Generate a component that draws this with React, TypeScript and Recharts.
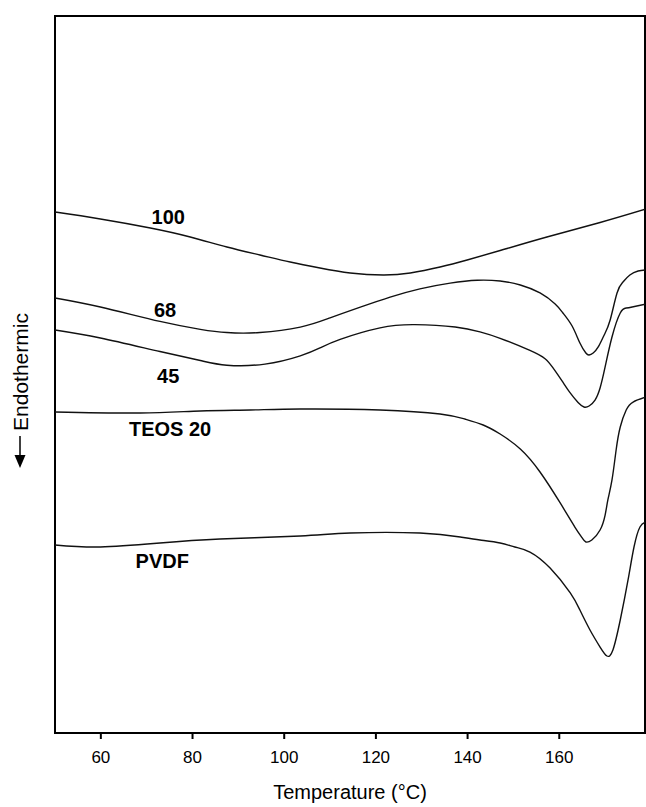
import React from 'react';
import { LineChart, Line, XAxis, YAxis, ReferenceDot, ReferenceArea } from 'recharts';

// Temperature (°C) and heat flow (arbitrary units, endotherm down) per sample
const temp100 = [50, 59.9, 70.8, 79.5, 87.5, 94.7, 101.3, 107.8, 114.4, 121.6, 127.5, 134.0, 139.9, 147.1, 157.3, 168.9, 178.9];
const flow100 = [72.66, 71.69, 70.43, 69.18, 67.78, 66.67, 65.69, 64.85, 64.16, 63.88, 64.16, 64.99, 65.97, 67.29, 69.18, 71.2, 73.08];

const temp68 = [50, 59.9, 72.9, 81.7, 87.5, 94.7, 103.5, 110.0, 116.6, 123.1, 129.6, 136.2, 142.1, 147.1, 151.5, 155.8, 159.1, 160.8, 162.8, 164.5, 165.8, 166.5, 167.4, 168.5, 169.8, 171.1, 172.6, 173.9, 175.4, 177.2, 178.9];
const flow68 = [60.67, 59.41, 57.4, 56.3, 55.85, 55.85, 56.6, 57.9, 59.4, 60.8, 61.95, 62.75, 63.15, 63.04, 62.48, 61.37, 59.83, 58.58, 56.76, 54.39, 53.0, 52.72, 53.0, 53.84, 55.51, 57.6, 61.37, 62.9, 63.88, 64.44, 64.58];

const temp45 = [50, 59.9, 72.9, 81.7, 87.5, 95.8, 103.5, 107.8, 112.2, 120.9, 128.5, 137.3, 142.7, 147.1, 153.6, 156.9, 158.6, 160.6, 162.3, 164.1, 165.4, 166.5, 167.8, 168.9, 170.0, 171.5, 173.3, 174.6, 175.9, 178.9];
const flow45 = [56.21, 55.09, 53.2, 51.95, 51.3, 51.45, 52.6, 53.7, 54.9, 56.5, 56.95, 56.62, 55.95, 55.05, 53.35, 52.2, 50.95, 49.1, 47.5, 46.1, 45.47, 45.61, 46.44, 48.12, 51.05, 55.23, 58.58, 59.27, 59.41, 59.83];

const tempTeos20 = [50, 68.6, 81.7, 92.6, 103.5, 120.9, 134.0, 139.4, 143.4, 147.1, 151.5, 155.8, 160.2, 163.4, 165.0, 165.8, 167.1, 168.9, 170.0, 170.6, 171.5, 172.4, 173.3, 174.6, 176.1, 178.9];
const flowTeos20 = [44.77, 44.63, 44.91, 45.05, 45.19, 45.05, 44.49, 43.79, 42.96, 41.7, 39.61, 36.4, 32.08, 28.73, 27.2, 26.64, 26.92, 28.31, 30.4, 32.5, 35.29, 39.47, 42.68, 45.05, 46.16, 46.86];

const tempPvdf = [50, 59.9, 72.9, 86.0, 103.5, 114.4, 129.6, 138.4, 142.7, 147.1, 150.3, 153.6, 158.0, 162.4, 164.5, 166.7, 168.9, 170.4, 171.7, 173.3, 175.0, 176.3, 177.6, 178.9];
const flowPvdf = [26.22, 25.94, 26.5, 27.06, 27.48, 27.89, 27.89, 27.34, 26.92, 26.5, 25.94, 25.24, 23.01, 19.53, 17.15, 14.37, 11.99, 10.74, 11.58, 15.76, 21.34, 25.94, 28.73, 29.43];

const xTicks = [60, 80, 100, 120, 140, 160];

const seriesNames = ['100', '68', '45', 'TEOS 20', 'PVDF'];
const labelTemps = [74.7, 74.0, 74.7, 75.1, 73.4];
const labelFlows = [72.0, 59.0, 49.8, 42.4, 24.0];

const rows = (t: number[], v: number[]) => t.map((x, i) => ({ t: x, v: v[i] }));

const FONT = '"Liberation Sans", Arial, Helvetica, sans-serif';

const CurveLabel = (props: any) => {
  const { viewBox, value } = props;
  const cx = viewBox.x + (viewBox.width || 0) / 2;
  const cy = viewBox.y + (viewBox.height || 0) / 2;
  return (
    <text x={cx} y={cy} dy="0.36em" textAnchor="middle" fontFamily={FONT} fontSize={20} fontWeight="bold" fill="#000">
      {value}
    </text>
  );
};

export default function App() {
  const series = [
    rows(temp100, flow100),
    rows(temp68, flow68),
    rows(temp45, flow45),
    rows(tempTeos20, flowTeos20),
    rows(tempPvdf, flowPvdf),
  ];
  return (
    <div style={{ position: 'absolute', left: 0, top: 0, width: 646, height: 807, background: '#fff', overflow: 'hidden' }}>
      <LineChart width={646} height={807} margin={{ top: 16, right: 1, bottom: 24, left: 55 }}>
        <XAxis
          dataKey="t"
          type="number"
          domain={[50, 178.7]}
          allowDataOverflow
          ticks={xTicks}
          height={50}
          tickSize={6}
          tickMargin={12}
          axisLine={{ stroke: '#000', strokeWidth: 2 }}
          tickLine={{ stroke: '#000', strokeWidth: 2 }}
          tick={{ fill: '#000', fontSize: 17, fontFamily: FONT }}
          label={{ value: 'Temperature (°C)', position: 'insideBottom', offset: -16, fill: '#000', fontSize: 20, fontFamily: FONT }}
        />
        <YAxis type="number" domain={[0, 100]} allowDataOverflow hide />
        <ReferenceArea x1={50} x2={178.7} y1={0} y2={100} fill="none" stroke="#000" strokeWidth={2} ifOverflow="visible" />
        {series.map((d, i) => (
          <Line
            key={seriesNames[i]}
            data={d}
            dataKey="v"
            name={seriesNames[i]}
            type="natural"
            stroke="#111"
            strokeWidth={1.4}
            dot={false}
            activeDot={false}
            isAnimationActive={false}
          />
        ))}
        {seriesNames.map((n, i) => (
          <ReferenceDot
            key={'lab' + n}
            x={labelTemps[i]}
            y={labelFlows[i]}
            r={0}
            stroke="none"
            fill="none"
            label={<CurveLabel value={n} />}
          />
        ))}
      </LineChart>
      <svg width={40} height={807} style={{ position: 'absolute', left: 0, top: 0 }}>
        <text x={20} y={372} transform="rotate(-90 20 372)" textAnchor="middle" dy="0.36em" fontFamily={FONT} fontSize={21} fill="#000">
          Endothermic
        </text>
        <line x1={20} y1={436} x2={20} y2={457} stroke="#000" strokeWidth={1.5} />
        <path d="M14.5,455 L25.5,455 L20,468 Z" fill="#000" />
      </svg>
    </div>
  );
}
